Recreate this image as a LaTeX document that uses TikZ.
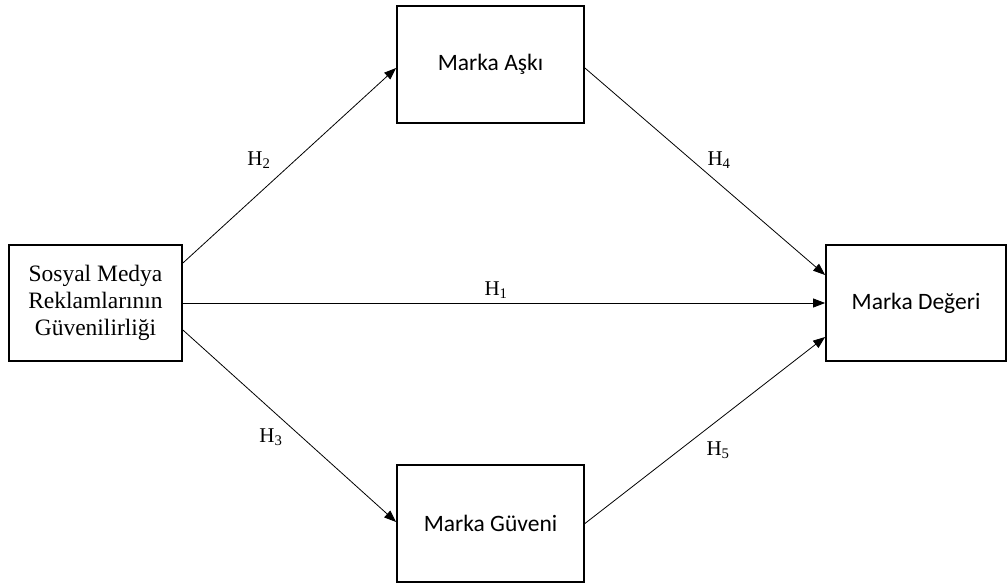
\documentclass[tikz,border=0pt]{standalone}
\usepackage{fontspec}
\setmainfont{Liberation Serif}
\newfontfamily\calfont{Carlito}
\usetikzlibrary{arrows.meta}
\tikzset{
  box/.style={draw, line width=1.8pt, inner sep=0pt, align=center},
  conn/.style={line width=0.8pt, -{Triangle[length=12pt,width=9pt]}},
  hlabel/.style={inner sep=0pt, font=\fontsize{21}{24}\selectfont},
}
\begin{document}
\begin{tikzpicture}[x=1pt,y=-1pt]
\useasboundingbox (0,0) rectangle (1008,586);
\node[box, minimum width=173pt, minimum height=116pt, font=\fontsize{23.5}{27}\selectfont] (A) at (95.5,303) {Sosyal Medya\\Reklamlarının\\Güvenilirliği};
\node[box, minimum width=187pt, minimum height=117pt, font=\calfont\fontsize{23.5}{27}\selectfont] (B) at (490.5,64.5) {Marka Aşkı};
\node[box, minimum width=187pt, minimum height=117pt, font=\calfont\fontsize{23.5}{27}\selectfont] (C) at (490.5,523.5) {Marka Güveni};
\node[box, minimum width=180pt, minimum height=116pt, font=\calfont\fontsize{23.5}{27}\selectfont] (D) at (916,303) {Marka Değeri};
\draw[conn] ([yshift=40pt]A.east) -- ([yshift=-3.5pt]B.west);
\draw[conn] (A.east) -- (D.west);
\draw[conn] ([yshift=-27pt]A.east) -- ([yshift=1.5pt]C.west);
\draw[conn] ([yshift=-3.5pt]B.east) -- ([yshift=28pt]D.west);
\draw[conn] (C.east) -- ([yshift=-34pt]D.west);
\node[hlabel] (h2) at (259,160) {H\textsubscript{2}};
\node[hlabel] (h4) at (719,160) {H\textsubscript{4}};
\node[hlabel] (h1) at (496,290) {H\textsubscript{1}};
\node[hlabel] (h3) at (271,437) {H\textsubscript{3}};
\node[hlabel] (h5) at (718,450) {H\textsubscript{5}};
\end{tikzpicture}
\end{document}
